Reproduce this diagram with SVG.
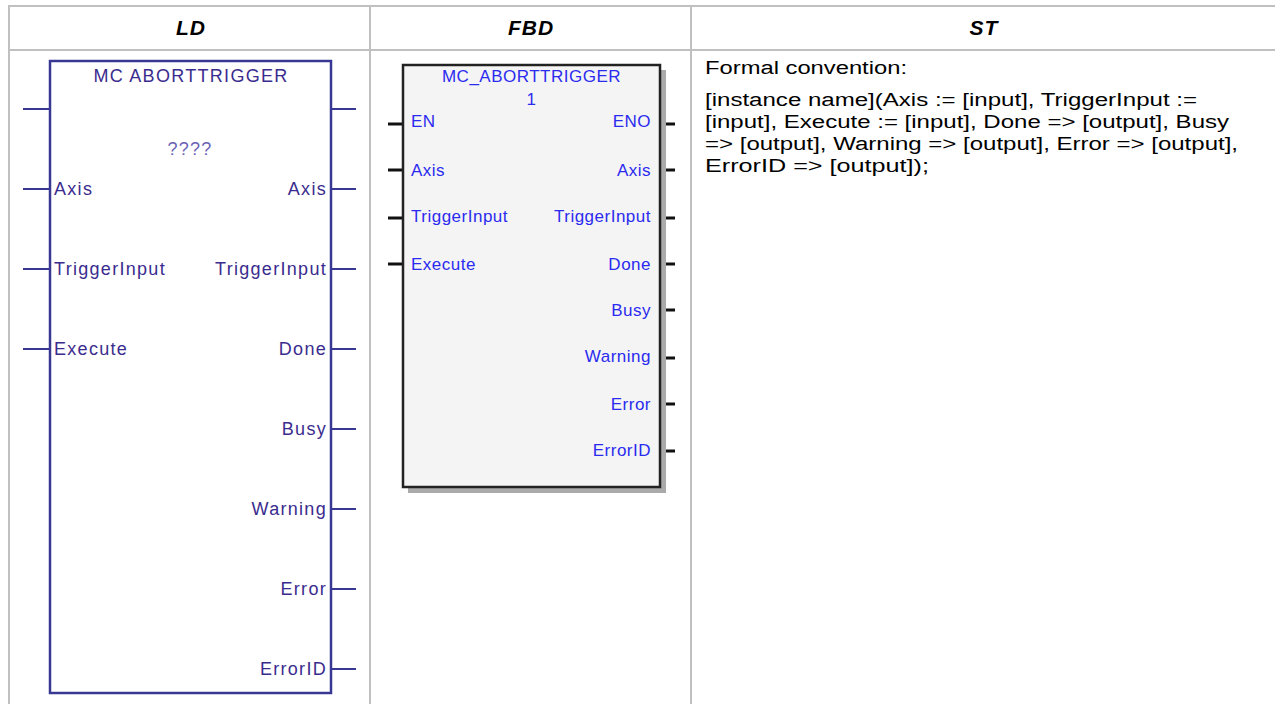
<svg xmlns="http://www.w3.org/2000/svg" width="1275" height="704" viewBox="0 0 1275 704">
  <style>
    .grid { stroke: #c0c0c0; stroke-width: 2; fill: none; }
    .hdr { font-family: "Liberation Sans", Arial, sans-serif; font-size: 21px; font-weight: bold; font-style: italic; fill: #000; text-anchor: middle; letter-spacing: 1px; }
    .ldbox { fill: #ffffff; stroke: #383894; stroke-width: 2.5; }
    .ldpin { stroke: #383894; stroke-width: 2; }
    .ldt { font-family: "Liberation Sans", Arial, sans-serif; font-size: 18px; fill: #3a2c8e; letter-spacing: 1.3px; }
    .ldq { font-family: "Liberation Sans", Arial, sans-serif; font-size: 18px; fill: #6a62b4; letter-spacing: 1.3px; text-anchor: middle; }
    .fbbox { fill: #f4f4f4; stroke: #222222; stroke-width: 2.5; }
    .fbshadow { fill: #aaaaaa; }
    .fbpin { stroke: #111111; stroke-width: 3; }
    .fbt { font-family: "Liberation Sans", Arial, sans-serif; font-size: 17px; fill: #2b2bef; letter-spacing: 0.5px; }
    .st { font-family: "Liberation Sans", Arial, sans-serif; font-size: 18px; fill: #000; }
    .end { text-anchor: end; }
    .mid { text-anchor: middle; }
  </style>

  <rect x="0" y="0" width="1275" height="704" fill="#ffffff"/>

  <g id="table">
    <line class="grid" x1="9" y1="6" x2="1275" y2="6"/>
    <line class="grid" x1="9" y1="50" x2="1275" y2="50"/>
    <line class="grid" x1="9" y1="5" x2="9" y2="704"/>
    <line class="grid" x1="370" y1="5" x2="370" y2="704"/>
    <line class="grid" x1="691" y1="5" x2="691" y2="704"/>
    <text class="hdr" x="191" y="35">LD</text>
    <text class="hdr" x="531" y="35">FBD</text>
    <text class="hdr" x="984" y="35">ST</text>
  </g>

  <g id="connectors">
    <g id="ld-pins">
      <line class="ldpin" x1="23" y1="109" x2="50" y2="109"/>
      <line class="ldpin" x1="23" y1="189" x2="50" y2="189"/>
      <line class="ldpin" x1="23" y1="269" x2="50" y2="269"/>
      <line class="ldpin" x1="23" y1="349" x2="50" y2="349"/>
      <line class="ldpin" x1="331" y1="109" x2="356" y2="109"/>
      <line class="ldpin" x1="331" y1="189" x2="356" y2="189"/>
      <line class="ldpin" x1="331" y1="269" x2="356" y2="269"/>
      <line class="ldpin" x1="331" y1="349" x2="356" y2="349"/>
      <line class="ldpin" x1="331" y1="429" x2="356" y2="429"/>
      <line class="ldpin" x1="331" y1="509" x2="356" y2="509"/>
      <line class="ldpin" x1="331" y1="589" x2="356" y2="589"/>
      <line class="ldpin" x1="331" y1="669" x2="356" y2="669"/>
    </g>
    <g id="fbd-pins">
      <line class="fbpin" x1="388" y1="124" x2="403" y2="124"/>
      <line class="fbpin" x1="388" y1="170" x2="403" y2="170"/>
      <line class="fbpin" x1="388" y1="218" x2="403" y2="218"/>
      <line class="fbpin" x1="388" y1="264" x2="403" y2="264"/>
      <line class="fbpin" x1="660" y1="124" x2="675" y2="124"/>
      <line class="fbpin" x1="660" y1="170" x2="675" y2="170"/>
      <line class="fbpin" x1="660" y1="218" x2="675" y2="218"/>
      <line class="fbpin" x1="660" y1="264" x2="675" y2="264"/>
      <line class="fbpin" x1="660" y1="310" x2="675" y2="310"/>
      <line class="fbpin" x1="660" y1="358" x2="675" y2="358"/>
      <line class="fbpin" x1="660" y1="404" x2="675" y2="404"/>
      <line class="fbpin" x1="660" y1="451" x2="675" y2="451"/>
    </g>
  </g>

  <g id="ld-block">
    <rect class="ldbox" x="50" y="61" width="281" height="632"/>
    <text class="ldt mid" x="191" y="82">MC ABORTTRIGGER</text>
    <text class="ldq" x="190" y="155">????</text>
    <text class="ldt" x="54" y="195">Axis</text>
    <text class="ldt" x="54" y="275">TriggerInput</text>
    <text class="ldt" x="54" y="355">Execute</text>
    <text class="ldt end" x="327" y="195">Axis</text>
    <text class="ldt end" x="327" y="275">TriggerInput</text>
    <text class="ldt end" x="327" y="355">Done</text>
    <text class="ldt end" x="327" y="435">Busy</text>
    <text class="ldt end" x="327" y="515">Warning</text>
    <text class="ldt end" x="327" y="595">Error</text>
    <text class="ldt end" x="327" y="675">ErrorID</text>
  </g>

  <g id="fbd-block">
    <rect class="fbshadow" x="408" y="70" width="258" height="423"/>
    <rect class="fbbox" x="403" y="65" width="257" height="422"/>
    <text class="fbt mid" x="531.5" y="82">MC_ABORTTRIGGER</text>
    <text class="fbt mid" x="531.5" y="105">1</text>
    <text class="fbt" x="411" y="127">EN</text>
    <text class="fbt" x="411" y="176">Axis</text>
    <text class="fbt" x="411" y="222">TriggerInput</text>
    <text class="fbt" x="411" y="270">Execute</text>
    <text class="fbt end" x="651" y="127">ENO</text>
    <text class="fbt end" x="651" y="176">Axis</text>
    <text class="fbt end" x="651" y="222">TriggerInput</text>
    <text class="fbt end" x="651" y="270">Done</text>
    <text class="fbt end" x="651" y="316">Busy</text>
    <text class="fbt end" x="651" y="362">Warning</text>
    <text class="fbt end" x="651" y="410">Error</text>
    <text class="fbt end" x="651" y="456">ErrorID</text>
  </g>

  <g id="st-text">
    <text class="st" x="705" y="74" textLength="202" lengthAdjust="spacingAndGlyphs">Formal convention:</text>
    <text class="st" x="705" y="106" textLength="492" lengthAdjust="spacingAndGlyphs">[instance name](Axis := [input], TriggerInput :=</text>
    <text class="st" x="705" y="128" textLength="524" lengthAdjust="spacingAndGlyphs">[input], Execute := [input], Done =&gt; [output], Busy</text>
    <text class="st" x="705" y="150" textLength="533" lengthAdjust="spacingAndGlyphs">=&gt; [output], Warning =&gt; [output], Error =&gt; [output],</text>
    <text class="st" x="705" y="172" textLength="224" lengthAdjust="spacingAndGlyphs">ErrorID =&gt; [output]);</text>
  </g>
</svg>
